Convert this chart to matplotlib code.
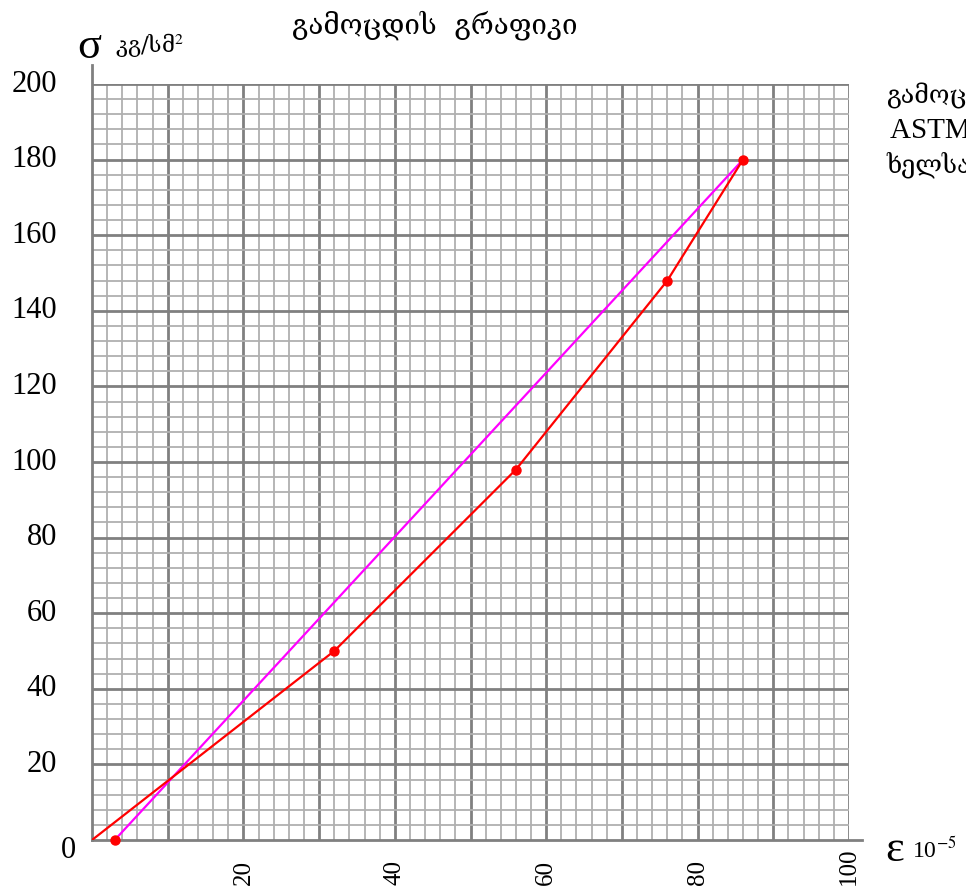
import numpy as np
import matplotlib.pyplot as plt

plt.rcParams['mathtext.fontset'] = 'stix'

# data
strain = [0, 32, 56, 76, 86]          # eps, 10^-5
stress = [0, 50, 98, 148, 180]        # sigma, kg/cm2
mark_x = [3, 32, 56, 76, 86]
mark_y = [0, 50, 98, 148, 180]
fit_x = [3, 86]
fit_y = [0, 180]

x_ticks = [20, 40, 60, 80, 100]
y_ticks = [20, 40, 60, 80, 100, 120, 140, 160, 180, 200]

serif = ['Liberation Serif', 'DejaVu Serif', 'DejaVu Sans']
geo = ['DejaVu Serif', 'DejaVu Sans']

fig = plt.figure(figsize=(9.66, 8.90), dpi=100)
ax = fig.add_axes([92/966, 1-840/890, (849-92)/966, (840-84)/890])
ax.set_xlim(0, 100)
ax.set_ylim(0, 200)

# graph paper
for x in np.arange(2, 101, 2):
    major = x % 10 == 0
    ax.axvline(x, color='#808080' if major else '#b0b0b0', lw=2.0 if major else 1.3, zorder=1)
for y in np.arange(4, 201, 4):
    major = y % 20 == 0
    ax.axhline(y, color='#808080' if major else '#b0b0b0', lw=2.0 if major else 1.3, zorder=1)

for s in ax.spines.values():
    s.set_visible(False)
ax.plot([0, 0], [0, 205], color='#808080', lw=2.0, clip_on=False, zorder=2)
ax.plot([0, 101.7], [0, 0], color='#808080', lw=2.0, clip_on=False, zorder=2)

ax.plot(fit_x, fit_y, color='#ff00ff', lw=1.6, zorder=3)
ax.plot(strain, stress, color='#ff0000', lw=1.6, zorder=3)
ax.plot(mark_x, mark_y, 'o', color='#ff0000', ms=6.5, zorder=4, clip_on=False)

ax.set_xticks([])
ax.set_yticks([])
for v in y_ticks:
    ax.text(-4.6, v, str(v), ha='right', va='center', fontsize=22, family=serif)
ax.text(-2.1, -2.9, '0', ha='right', va='center', fontsize=22, family=serif)
for v in x_ticks:
    ax.text(v, -12.0, str(v), ha='center', va='bottom', rotation=90, fontsize=18, family=serif)

# axis names
fig.text(77/966, 1-47/890, 'σ', fontsize=32, family=serif, va='center', ha='left')
fig.text(115/966, 1-45/890, 'კგ/სმ$^2$', fontsize=16, family=geo, va='center', ha='left')
fig.text(885/966, 1-850/890, 'ε', fontsize=32, family=serif, va='center', ha='left')
fig.text(912/966, 1-850/890, '10$^{-5}$', fontsize=17, family=serif, va='center', ha='left')

fig.text(435/966, 1-25/890, 'გამოცდის  გრაფიკი', fontsize=20, family=geo, va='center', ha='center')

fig.text(886/966, 1-96/890, 'გამოცდა', fontsize=18, family=geo, va='center', ha='left')
fig.text(890/966, 1-131/890, 'ASTM C469', fontsize=21, family=serif, va='center', ha='left')
fig.text(886/966, 1-165/890, 'ხელსაწყო', fontsize=18, family=geo, va='center', ha='left')

fig.savefig('out.png', dpi=100)
